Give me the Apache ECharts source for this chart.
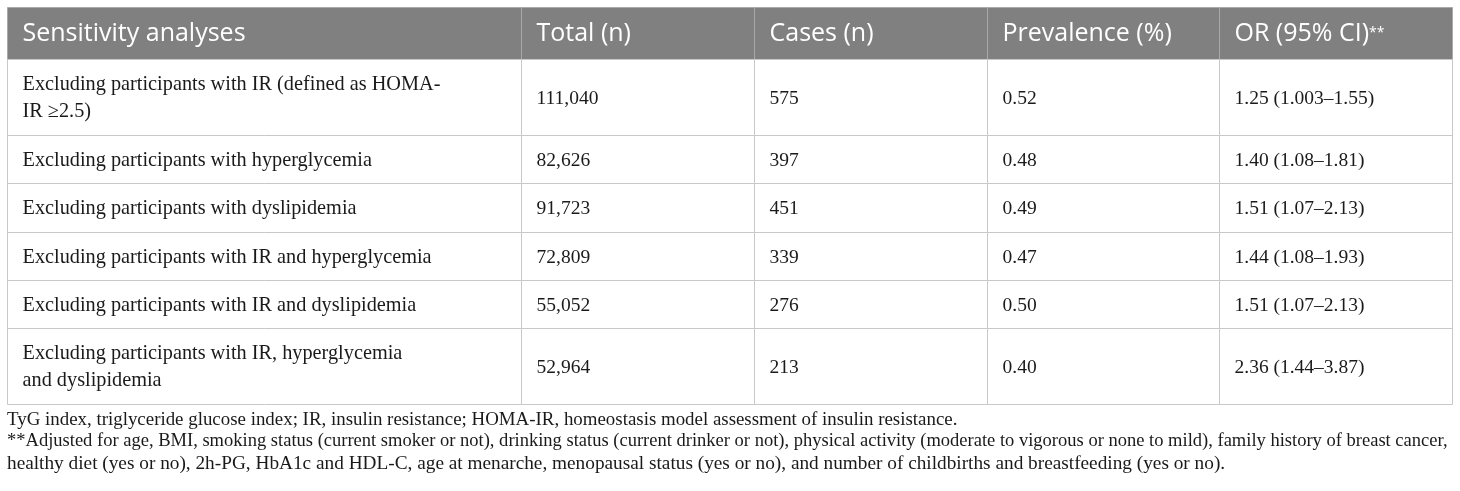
<!DOCTYPE html>
<html>
<head>
<meta charset="utf-8">
<script src="https://cdn.jsdelivr.net/npm/echarts@6/dist/echarts.min.js"></script>
<style>
  html, body { margin: 0; padding: 0; background: #fff; }
  #table { width: 1460px; height: 491px; }
</style>
</head>
<body>
<div id="table"></div>
<script>
// table content
var headers = ['Sensitivity analyses', 'Total (n)', 'Cases (n)', 'Prevalence (%)', 'OR (95% CI)'];
var analyses = [
    'Excluding participants with IR (defined as HOMA-\nIR \u22652.5)',
    'Excluding participants with hyperglycemia',
    'Excluding participants with dyslipidemia',
    'Excluding participants with IR and hyperglycemia',
    'Excluding participants with IR and dyslipidemia',
    'Excluding participants with IR, hyperglycemia\nand dyslipidemia'
];
var totals = ['111,040', '82,626', '91,723', '72,809', '55,052', '52,964'];
var cases = ['575', '397', '451', '339', '276', '213'];
var prevalence = ['0.52', '0.48', '0.49', '0.47', '0.50', '0.40'];
var oddsRatios = ['1.25 (1.003\u20131.55)', '1.40 (1.08\u20131.81)', '1.51 (1.07\u20132.13)',
    '1.44 (1.08\u20131.93)', '1.51 (1.07\u20132.13)', '2.36 (1.44\u20133.87)'];
var footnotes = [
    'TyG index, triglyceride glucose index; IR, insulin resistance; HOMA-IR, homeostasis model assessment of insulin resistance.',
    '**Adjusted for age, BMI, smoking status (current smoker or not), drinking status (current drinker or not), physical activity (moderate to vigorous or none to mild), family history of breast cancer,',
    'healthy diet (yes or no), 2h-PG, HbA1c and HDL-C, age at menarche, menopausal status (yes or no), and number of childbirths and breastfeeding (yes or no).'
];

// layout (pixels)
var colEdges = [7, 520.5, 754, 987, 1219, 1452];
var rowEdges = [7, 59, 135, 183, 232, 280, 328, 404];
var pad = 15;
var serif = '"Liberation Serif", serif';

var columns = [analyses, totals, cases, prevalence, oddsRatios];
var cells = [];
for (var c = 0; c < headers.length; c++) {
    cells.push([c, 0, headers[c]]);
    for (var r = 0; r < analyses.length; r++) {
        cells.push([c, r + 1, columns[c][r]]);
    }
}

var myChart = echarts.init(document.getElementById('table'));

function renderCell(params, api) {
    var c = api.value(0), r = api.value(1);
    var text = cells[params.dataIndex][2];
    var p0 = api.coord([colEdges[c], rowEdges[r]]);
    var p1 = api.coord([colEdges[c + 1], rowEdges[r + 1]]);
    var isHead = r === 0;
    var x0 = Math.round(p0[0]) + 0.5, y0 = Math.round(p0[1]) + 0.5;
    var x1 = Math.round(p1[0]) + 0.5, y1 = Math.round(p1[1]) + 0.5;
    var label = isHead && c === 4 ? text + '{s|**}' : text;
    var size = isHead ? 25 : (c === 0 ? 20.3 : 19.5);
    return {
        type: 'group',
        children: [
            {
                type: 'rect',
                shape: { x: x0, y: y0, width: x1 - x0, height: y1 - y0 },
                style: {
                    fill: isHead ? '#808080' : '#ffffff',
                    stroke: isHead ? '#a9a9a9' : '#c8c8c8',
                    lineWidth: 1
                }
            },
            {
                type: 'text',
                style: {
                    text: label,
                    x: x0 + pad,
                    y: (y0 + y1) / 2 + (isHead ? 0 : 1),
                    verticalAlign: 'middle',
                    align: 'left',
                    fill: isHead ? '#ffffff' : '#1a1a1a',
                    fontFamily: isHead ? '"Open Sans", sans-serif' : serif,
                    fontSize: size,
                    lineHeight: isHead ? 30 : 27,
                    rich: {
                        s: { fontSize: 14, fill: '#ffffff', fontFamily: '"Open Sans", sans-serif', verticalAlign: 'middle' }
                    }
                }
            }
        ]
    };
}

// footnotes; the long second line is set to fill the table width like the justified original
var ctx = document.createElement('canvas').getContext('2d');
var noteY = [423, 444, 466];
var noteSize = [18.9, 19.3, 19.3];
var noteGraphics = footnotes.map(function (t, i) {
    var fs = noteSize[i];
    if (i === 1) {
        ctx.font = '100px ' + serif;
        fs = Math.min(fs, 100 * (colEdges[5] - colEdges[0] - 3) / ctx.measureText(t).width);
    }
    return {
        type: 'text',
        left: 7,
        top: noteY[i] - 12,
        style: {
            text: t,
            fill: '#1a1a1a',
            font: fs.toFixed(2) + 'px ' + serif
        }
    };
});

option = {
    animation: false,
    grid: { left: 0, right: 0, top: 0, bottom: 0 },
    xAxis: { type: 'value', min: 0, max: 1460, show: false },
    yAxis: { type: 'value', min: 0, max: 491, inverse: true, show: false },
    graphic: noteGraphics,
    series: [
        {
            type: 'custom',
            renderItem: renderCell,
            data: cells,
            silent: true
        }
    ]
};

myChart.setOption(option);
</script>
</body>
</html>
